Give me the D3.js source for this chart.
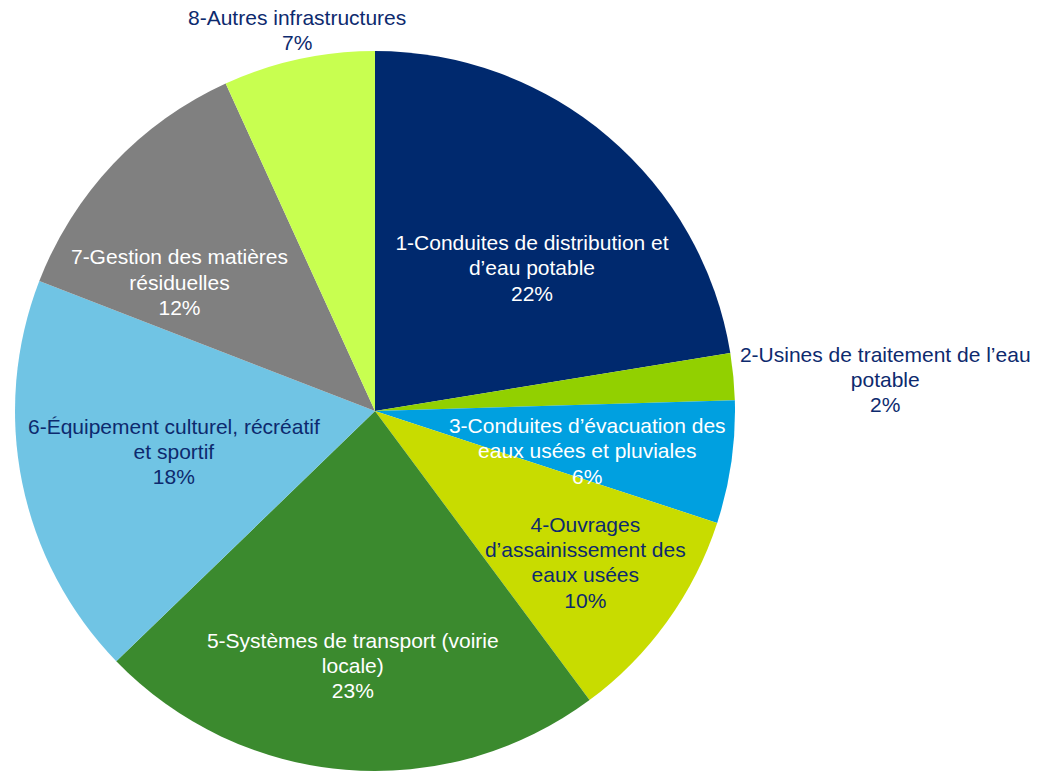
<!DOCTYPE html>
<html>
	<head>
		<title>Répartition des infrastructures</title>
		<style>
			body {
				margin: 0;
				background: #fff;
			}

			text {
				font: 21px "Liberation Sans", Arial, sans-serif;
			}
		</style>
	</head>
	<body>
		<script src="https://cdn.jsdelivr.net/npm/d3@7/dist/d3.min.js"></script>
		<script>
			// categories (line breaks as in the chart)
			var categories = [
				"1-Conduites de distribution et\nd\u2019eau potable",
				"2-Usines de traitement de l\u2019eau\npotable",
				"3-Conduites d\u2019évacuation des\neaux usées et pluviales",
				"4-Ouvrages\nd\u2019assainissement des\neaux usées",
				"5-Systèmes de transport (voirie\nlocale)",
				"6-Équipement culturel, récréatif\net sportif",
				"7-Gestion des matières\nrésiduelles",
				"8-Autres infrastructures"
			];
			// shares in percent
			var values = [22.4, 2.1, 5.5, 9.8, 22.9, 18.1, 12.3, 6.8];
			var colors = ["#00296e", "#92d000", "#00a0e0", "#c8dc00", "#3b8a2e", "#70c4e4", "#808080", "#c8ff50"];
			var textColors = ["#fff", "#0d2a6e", "#fff", "#0d2a6e", "#fff", "#0d2a6e", "#fff", "#0d2a6e"];

			var width = 1038;
			var height = 772;
			var radius = 360;
			var cx = 375, cy = 411;

			// label placement: radius fraction and angle nudge (degrees)
			var labelR = [0.59, 1.42, 0.6, 0.72, 0.71, 0.57, 0.65, 1.08];
			var labelShift = [7.3, 2.0, 2.5, 0, 0.3, 0, -10, 0.7];

			var svg = d3.select('body').append('svg')
						.attr('width', width)
						.attr('height', height);

			var g = svg.append('g')
						.attr('transform', 'translate(' + cx + ',' + cy + ')');

			var pie = d3.pie().sort(null).value(function(d) { return d; });
			var arcs = pie(values);
			var arc = d3.arc().innerRadius(0).outerRadius(radius);

			g.selectAll('path')
				.data(arcs)
				.enter().append('path')
				.attr('d', arc)
				.attr('fill', function(d, i) { return colors[i]; });

			var lineH = 25.3;
			var labels = g.selectAll('text.label')
				.data(arcs)
				.enter().append('text')
				.attr('class', 'label')
				.attr('text-anchor', 'middle')
				.attr('fill', function(d, i) { return textColors[i]; })
				.attr('transform', function(d, i) {
					var a = (d.startAngle + d.endAngle) / 2 + labelShift[i] * Math.PI / 180;
					var r = radius * labelR[i];
					return 'translate(' + (r * Math.sin(a)) + ',' + (-r * Math.cos(a)) + ')';
				});

			labels.each(function(d, i) {
				var lines = categories[i].split('\n').concat([Math.round(values[i]) + '%']);
				var t = d3.select(this);
				var top = -(lines.length - 1) * lineH / 2;
				lines.forEach(function(s, k) {
					t.append('tspan')
						.attr('x', 0)
						.attr('y', top + k * lineH)
						.attr('dy', '0.35em')
						.text(s);
				});
			});
		</script>
	</body>
</html>
